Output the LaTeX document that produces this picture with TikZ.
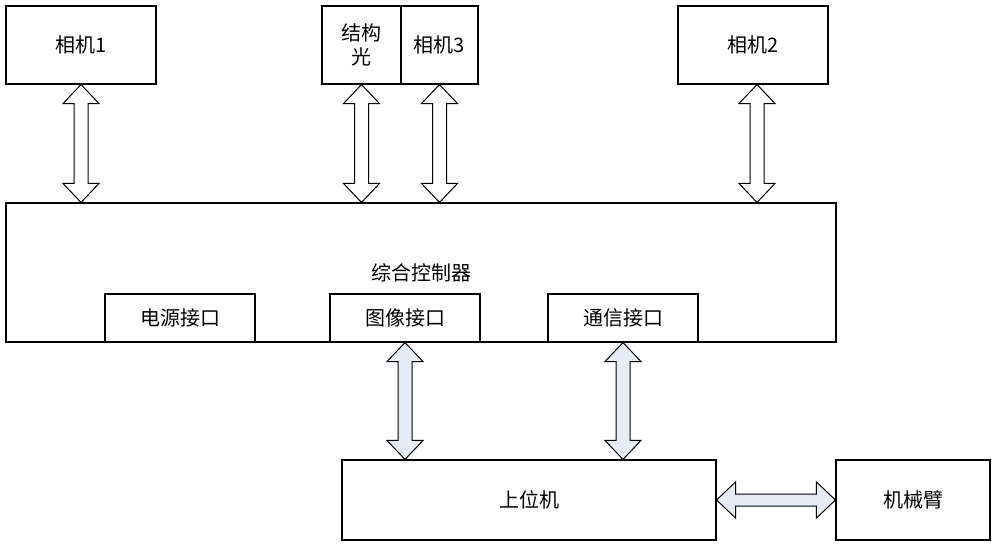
\documentclass[tikz,border=0pt]{standalone}
\usepackage{fontspec}
\setmainfont{Noto Sans CJK SC}
\usepackage{xcolor}
\usetikzlibrary{calc}

\definecolor{arrowfill}{RGB}{230,236,246}

% double arrows, tip to tip
\newcommand{\vdarrow}[3]{%
\draw [black, line width=1pt, fill=#3] let \p1=(#1), \p2=(#2) in
  (\x1,\y1) -- (\x1+18,\y1-19) -- (\x1+7,\y1-19) -- (\x1+7,\y2+19) -- (\x1+18,\y2+19)
  -- (\x1,\y2) -- (\x1-18,\y2+19) -- (\x1-7,\y2+19) -- (\x1-7,\y1-19) -- (\x1-18,\y1-19) -- cycle;}
\newcommand{\hdarrow}[3]{%
\draw [black, line width=1pt, fill=#3] let \p1=(#1), \p2=(#2) in
  (\x1,\y1) -- (\x1+19,\y1+18) -- (\x1+19,\y1+6) -- (\x2-19,\y1+6) -- (\x2-19,\y1+18)
  -- (\x2,\y1) -- (\x2-19,\y1-18) -- (\x2-19,\y1-6) -- (\x1+19,\y1-6) -- (\x1+19,\y1-18) -- cycle;}

\begin{document}
\begin{tikzpicture}[x=1pt,y=1pt]
\tikzset{box/.style={draw, black, line width=1.1pt, inner sep=0pt, font=\fontsize{20}{24}\selectfont}}
\useasboundingbox (0,0) rectangle (1000,546);

% cameras
\node [box, minimum width=150, minimum height=78] (cam1) at (81,501) {相机1};
\node [box, minimum width=79, minimum height=78, align=center] (sl) at (361.5,501) {结构\\光};
\node [box, minimum width=77, minimum height=78] (cam3) at (439.5,501) {相机3};
\node [box, minimum width=150, minimum height=78] (cam2) at (753,501) {相机2};

% controller
\node [box, minimum width=830, minimum height=139] (ctrl) at (421,273.5) {综合控制器};
\node [box, minimum width=150, minimum height=48] (pwr) at (180,228) {电源接口};
\node [box, minimum width=150, minimum height=48] (img) at (405,228) {图像接口};
\node [box, minimum width=150, minimum height=48] (com) at (623,228) {通信接口};

% host and arm
\node [box, minimum width=374, minimum height=80] (host) at (529,46) {上位机};
\node [box, minimum width=154, minimum height=80] (arm) at (913,46) {机械臂};

\coordinate (c2a) at ($(cam2.south)+(4,0)$);

\vdarrow{cam1.south}{ctrl.north -| cam1.south}{white}
\vdarrow{sl.south}{ctrl.north -| sl.south}{white}
\vdarrow{cam3.south}{ctrl.north -| cam3.south}{white}
\vdarrow{c2a}{ctrl.north -| c2a}{white}
\vdarrow{img.south}{host.north -| img.south}{arrowfill}
\vdarrow{com.south}{host.north -| com.south}{arrowfill}
\hdarrow{host.east}{arm.west}{arrowfill}
\end{tikzpicture}
\end{document}
